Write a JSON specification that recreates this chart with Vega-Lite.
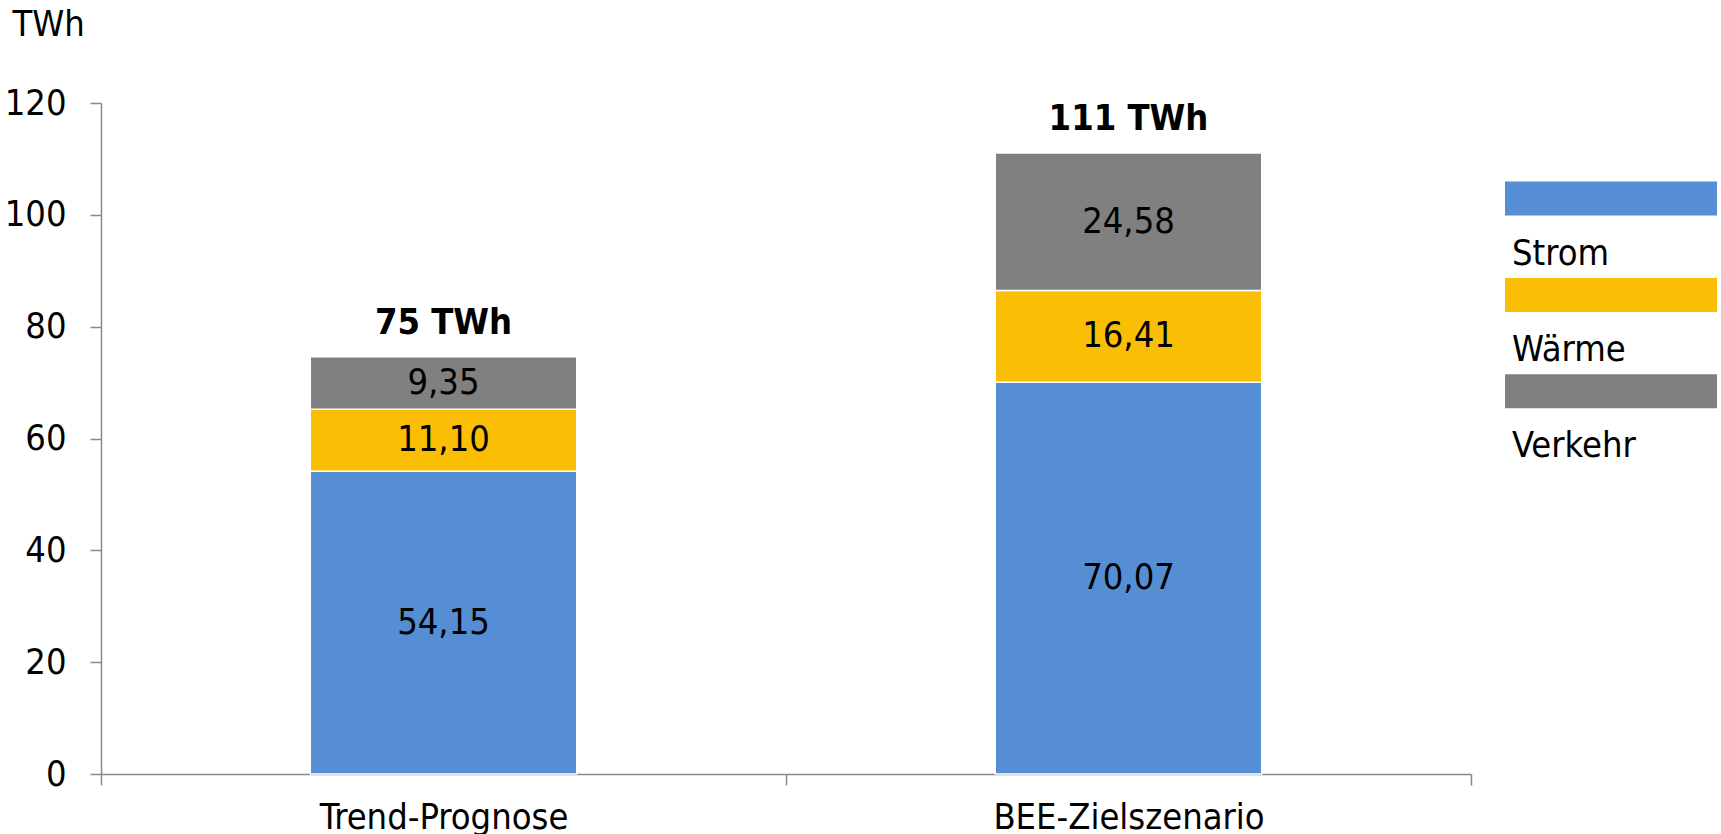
{
  "$schema": "https://vega.github.io/schema/vega-lite/v6.json",
  "width": 1370,
  "height": 671,
  "autosize": {"type": "none"},
  "padding": {"left": 101, "top": 103, "right": 250, "bottom": 60},
  "background": "white",
  "config": {
    "view": {"stroke": null},
    "font": "DejaVu Sans Condensed",
    "locale": {"number": {"decimal": ",", "thousands": ".", "grouping": [3], "currency": ["", " €"]}}
  },
  "data": {
    "values": [
      {"scenario": "Trend-Prognose", "sector": "Strom", "ord": 1, "value": 54.15},
      {"scenario": "Trend-Prognose", "sector": "Wärme", "ord": 2, "value": 11.10},
      {"scenario": "Trend-Prognose", "sector": "Verkehr", "ord": 3, "value": 9.35},
      {"scenario": "BEE-Zielszenario", "sector": "Strom", "ord": 1, "value": 70.07},
      {"scenario": "BEE-Zielszenario", "sector": "Wärme", "ord": 2, "value": 16.41},
      {"scenario": "BEE-Zielszenario", "sector": "Verkehr", "ord": 3, "value": 24.58}
    ]
  },
  "encoding": {
    "x": {
      "field": "scenario",
      "type": "nominal",
      "sort": ["Trend-Prognose", "BEE-Zielszenario"],
      "scale": {"paddingInner": 0, "paddingOuter": 0},
      "axis": {
        "title": null,
        "labelAngle": 0,
        "tickBand": "extent",
        "tickSize": 11,
        "tickWidth": 1.5,
        "tickColor": "#888888",
        "domainColor": "#888888",
        "domainWidth": 1.5,
        "labelPadding": 32,
        "labelBaseline": "middle",
        "labelLimit": 500,
        "labelFontSize": 36,
        "labelColor": "black"
      }
    }
  },
  "layer": [
    {
      "mark": {"type": "bar", "stroke": "white", "strokeWidth": 1.5, "width": {"band": 0.389}},
      "encoding": {
        "y": {
          "field": "value",
          "type": "quantitative",
          "stack": "zero",
          "scale": {"domain": [0, 120]},
          "axis": {
            "title": "TWh",
            "titleAngle": 0,
            "titleX": -89,
            "titleY": -79,
            "titleAlign": "left",
            "titleBaseline": "middle",
            "titleFontSize": 36,
            "titleFontWeight": "normal",
            "titleColor": "black",
            "values": [0, 20, 40, 60, 80, 100, 120],
            "grid": false,
            "domainColor": "#888888",
            "domainWidth": 1.5,
            "tickColor": "#888888",
            "tickWidth": 1.5,
            "tickSize": 11,
            "labelPadding": 24,
            "labelFontSize": 36,
            "labelColor": "black"
          }
        },
        "color": {
          "field": "sector",
          "type": "nominal",
          "scale": {"domain": ["Strom", "Wärme", "Verkehr"], "range": ["#558ED5", "#FABE04", "#808080"]},
          "legend": {
            "orient": "none",
            "legendX": 1387,
            "legendY": 77.5,
            "title": null,
            "symbolType": "M-1,-17L211,-17L211,17L-1,17Z",
            "symbolSize": 4,
            "symbolStrokeWidth": 0,
            "labelFontSize": 36,
            "labelColor": "black",
            "labelOffset": -12,
            "labelLimit": 400,
            "labelBaseline": "top",
            "labelExpr": "['', datum.label]",
            "rowPadding": 5.4
          }
        },
        "order": {"field": "ord", "type": "quantitative"}
      }
    },
    {
      "mark": {"type": "text", "fontSize": 36, "color": "black"},
      "encoding": {
        "y": {"field": "value", "type": "quantitative", "stack": "zero", "bandPosition": 0.5},
        "detail": {"field": "sector"},
        "order": {"field": "ord", "type": "quantitative"},
        "text": {"field": "value", "type": "quantitative", "format": ".2f"}
      }
    },
    {
      "transform": [{"aggregate": [{"op": "sum", "field": "value", "as": "total"}], "groupby": ["scenario"]}],
      "mark": {"type": "text", "fontSize": 36, "fontWeight": "bold", "color": "black", "dy": -34, "text": {"expr": "format(datum.total, '.0f') + ' TWh'"}},
      "encoding": {
        "y": {"field": "total", "type": "quantitative"}
      }
    }
  ]
}
